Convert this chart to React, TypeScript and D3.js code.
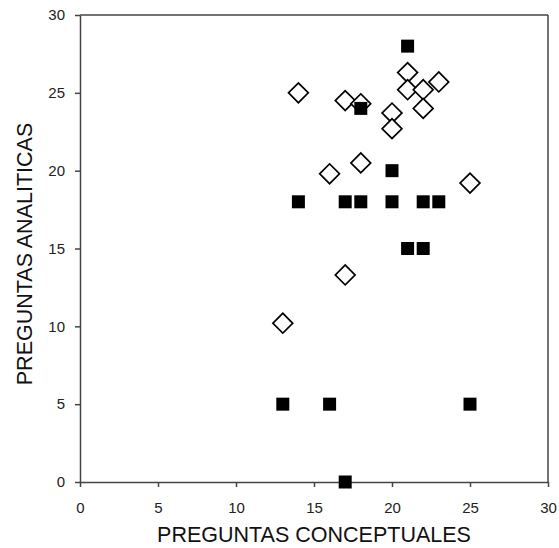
import React, { useEffect, useRef } from "react";
import * as d3 from "d3";

// open diamonds
const diamondX = [14, 17, 18, 21, 21, 22, 23, 22, 20, 20, 18, 16, 25, 17, 13];
const diamondY = [25, 24.5, 24.3, 26.3, 25.2, 25.2, 25.7, 24, 23.7, 22.7, 20.5, 19.8, 19.2, 13.3, 10.2];

// filled squares
const squareX = [21, 18, 20, 14, 17, 18, 20, 22, 23, 21, 22, 13, 16, 25, 17];
const squareY = [28, 24, 20, 18, 18, 18, 18, 18, 18, 15, 15, 5, 5, 5, 0];

const xTicks = [0, 5, 10, 15, 20, 25, 30];
const yTicks = [0, 5, 10, 15, 20, 25, 30];

const width = 559;
const height = 548;
const margin = { left: 80, right: 11, top: 15, bottom: 66 };

const App = () => {
    const ref = useRef<SVGSVGElement>(null);

    useEffect(() => {
        const svg = d3.select(ref.current);
        svg.selectAll("*").remove();

        const x = d3.scaleLinear().domain([0, 30]).range([margin.left, width - margin.right]);
        const y = d3.scaleLinear().domain([0, 30]).range([height - margin.bottom, margin.top]);
        const axisColor = "#444";

        // frame top / right
        svg.append("line")
            .attr("x1", x(0)).attr("x2", x(30))
            .attr("y1", y(30)).attr("y2", y(30))
            .attr("stroke", axisColor).attr("stroke-width", 1.5);
        svg.append("line")
            .attr("x1", x(30)).attr("x2", x(30))
            .attr("y1", y(30)).attr("y2", y(0))
            .attr("stroke", axisColor).attr("stroke-width", 1.5);

        const xAxis = d3.axisBottom(x).tickValues(xTicks).tickSize(5).tickSizeOuter(0).tickPadding(15);
        const yAxis = d3.axisLeft(y).tickValues(yTicks).tickSize(5).tickSizeOuter(0).tickPadding(10);

        const gx = svg.append("g")
            .attr("transform", "translate(0," + y(0) + ")")
            .call(xAxis);
        const gy = svg.append("g")
            .attr("transform", "translate(" + x(0) + ",0)")
            .call(yAxis);

        [gx, gy].forEach(g => {
            g.select(".domain").attr("stroke", axisColor).attr("stroke-width", 1.5);
            g.selectAll(".tick line").attr("stroke", axisColor).attr("stroke-width", 1.5);
            g.selectAll(".tick text")
                .attr("fill", "#222")
                .style("font-family", "'Liberation Sans', Arial, sans-serif")
                .style("font-size", "15px");
        });

        const dSym = d3.symbol().type(d3.symbolSquare).size(196);
        svg.append("g")
            .selectAll("path")
            .data(diamondX.map((d, i) => [d, diamondY[i]]))
            .enter()
            .append("path")
            .attr("d", dSym)
            .attr("transform", d => "translate(" + x(d[0]) + "," + y(d[1]) + ") rotate(45)")
            .attr("fill", "white")
            .attr("stroke", "black")
            .attr("stroke-width", 1.7);

        const sSym = d3.symbol().type(d3.symbolSquare).size(169);
        svg.append("g")
            .selectAll("path")
            .data(squareX.map((d, i) => [d, squareY[i]]))
            .enter()
            .append("path")
            .attr("d", sSym)
            .attr("transform", d => "translate(" + x(d[0]) + "," + y(d[1]) + ")")
            .attr("fill", "black");

        svg.append("text")
            .text("PREGUNTAS CONCEPTUALES")
            .attr("x", (x(0) + x(30)) / 2)
            .attr("y", 542)
            .attr("text-anchor", "middle")
            .attr("fill", "#111")
            .style("font-family", "'Liberation Sans', Arial, sans-serif")
            .style("font-size", "21.5px");

        svg.append("text")
            .text("PREGUNTAS ANALITICAS")
            .attr("transform", "translate(32,254) rotate(-90)")
            .attr("text-anchor", "middle")
            .attr("fill", "#111")
            .style("font-family", "'Liberation Sans', Arial, sans-serif")
            .style("font-size", "21.5px");
    }, []);

    return (
        <svg ref={ref} width={width} height={height}
            style={{ position: "absolute", left: 0, top: 0, background: "white" }} />
    );
};

export default App;
